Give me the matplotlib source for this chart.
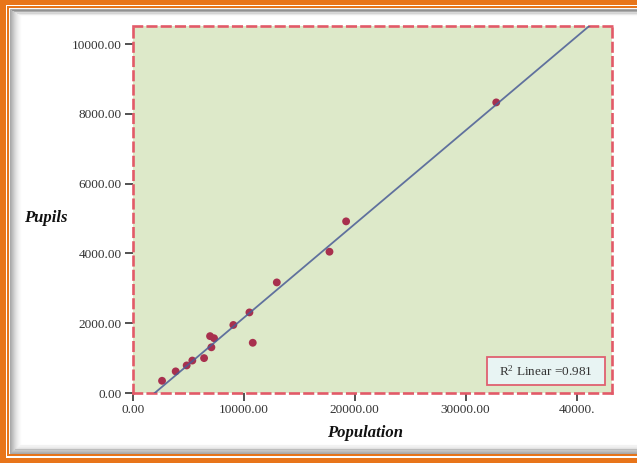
import numpy as np
import matplotlib
matplotlib.use("Agg")
import matplotlib.pyplot as plt
from matplotlib.patches import Rectangle

# values
population = [2620, 3850, 4840, 5350, 6410, 7070, 6950, 7310, 9050,
              10500, 10800, 12970, 17720, 19220, 32760]
pupils = [350, 620, 790, 930, 1000, 1310, 1630, 1570, 1950,
          2310, 1440, 3170, 4050, 4920, 8330]

x_ticks = [0, 10000, 20000, 30000, 40000]
x_tick_labels = ["0.00", "10000.00", "20000.00", "30000.00", "40000."]
y_ticks = [0, 2000, 4000, 6000, 8000, 10000]
y_tick_labels = ["0.00", "2000.00", "4000.00", "6000.00", "8000.00", "10000.00"]
r2_text = "R$^{2}$ Linear =0.981"

W, H = 637, 463
ORANGE = "#e8751a"
GREEN = "#dde9c9"
DASH_RED = "#e25a68"
DOT_RED = "#a8304e"
LINE_BLUE = "#4a5c96"
SERIF = ["Liberation Serif", "DejaVu Serif"]

plt.rcParams["mathtext.fontset"] = "custom"
plt.rcParams["mathtext.rm"] = "Liberation Serif"
plt.rcParams["mathtext.it"] = "Liberation Serif:italic"

fig = plt.figure(figsize=(W / 100, H / 100), dpi=100, facecolor=ORANGE)


def frame(left, top, right, bottom, **kw):
    # rectangle given in pixel coords, origin at the top-left
    r = Rectangle((left / W, 1 - bottom / H), (right - left) / W, (bottom - top) / H,
                  transform=fig.transFigure, zorder=-10, **kw)
    fig.add_artist(r)


# orange / white picture frame with a soft inner shadow
frame(5.5, 4.5, 700, 457.5, facecolor="white", edgecolor="none")
frame(7, 6, 700, 456, facecolor=ORANGE, edgecolor="none")
frame(9, 8, 700, 453.5, facecolor="white", edgecolor="none")
for i in range(12):
    a = 0.5 * (1 - i / 12) ** 1.8
    frame(10 + i, 9 + i * 0.6, 700, 452.5 - i * 0.8, facecolor="none",
          edgecolor=(0.35, 0.35, 0.35, a), linewidth=0.8)

ax = fig.add_axes([133 / W, 1 - 393 / H, (612 - 133) / W, (393 - 26) / H])
ax.set_facecolor(GREEN)
ax.set_xlim(0, 43200)
ax.set_ylim(0, 10520)

for side in ["left", "right", "top", "bottom"]:
    ax.spines[side].set_color(DASH_RED)
    ax.spines[side].set_linewidth(1.9)
    ax.spines[side].set_linestyle((0, (3.2, 2.2)))

ax.scatter(population, pupils, s=32, color=DOT_RED, edgecolors="none", zorder=3)

slope, intercept = np.polyfit(population, pupils, 1)
x0 = -intercept / slope
fit_x = np.array([x0, 50000])
ax.plot(fit_x, slope * fit_x + intercept, color=LINE_BLUE, linewidth=1.3,
        alpha=0.85, zorder=4)

ax.set_xticks(x_ticks, labels=x_tick_labels)
ax.set_yticks(y_ticks, labels=y_tick_labels)
ax.tick_params(direction="out", length=6, width=1.2, color="#333333",
               labelsize=9.5, labelcolor="#333333", pad=2)
for lbl in ax.get_xticklabels() + ax.get_yticklabels():
    lbl.set_family(SERIF)

fig.text(24 / W, 1 - 218 / H, "Pupils", family=SERIF, fontsize=12,
         fontweight="bold", fontstyle="italic", ha="left", va="center", color="#111111")
fig.text(365 / W, 1 - 433 / H, "Population", family=SERIF, fontsize=12,
         fontweight="bold", fontstyle="italic", ha="center", va="center", color="#111111")

ax.add_patch(Rectangle((0.739, 0.022), 0.246, 0.076, transform=ax.transAxes,
                       facecolor="#e8f4f3", edgecolor="#e06070", linewidth=1.3, zorder=5))
ax.text(0.862, 0.058, r2_text, transform=ax.transAxes, family=SERIF, fontsize=9.5,
        ha="center", va="center", color="#333333", zorder=6)

fig.savefig("out.png", dpi=100, facecolor=ORANGE)
